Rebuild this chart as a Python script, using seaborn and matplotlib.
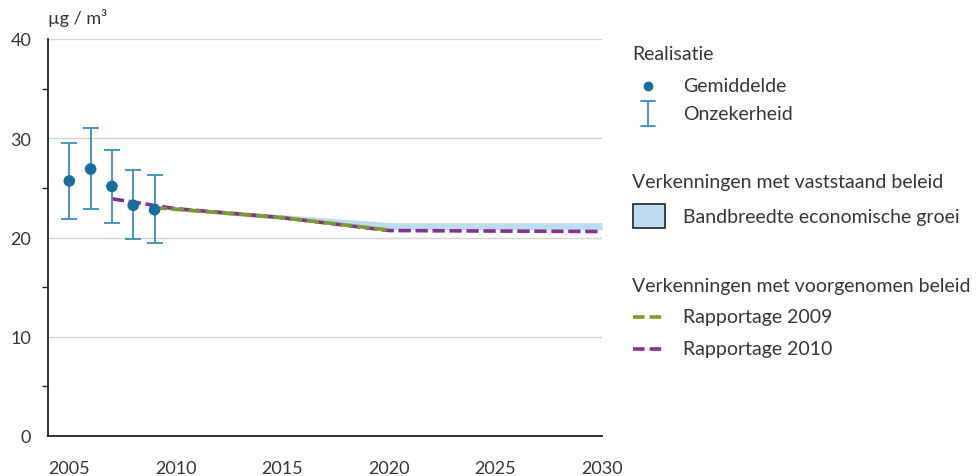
import numpy as np
import pandas as pd
import matplotlib
matplotlib.use("Agg")
import matplotlib.pyplot as plt
from matplotlib.patches import Rectangle
from matplotlib.lines import Line2D
import seaborn as sns

# Measured annual means with uncertainty range
obs_years = [2005, 2006, 2007, 2008, 2009]
obs_mean = [25.7, 26.9, 25.15, 23.25, 22.8]
obs_low = [21.85, 22.9, 21.45, 19.8, 19.4]
obs_high = [29.5, 31.0, 28.85, 26.85, 26.3]

# Outlook with established policy: band for economic growth
band_years = [2009, 2010, 2015, 2020, 2025, 2030]
band_low = [22.9, 22.7, 21.8, 20.8, 20.8, 20.8]
band_high = [23.2, 23.1, 22.3, 21.5, 21.5, 21.5]

# Outlook with proposed policy
r2009_years = [2009, 2010, 2015, 2020]
r2009_vals = [23.0, 22.85, 22.0, 20.75]
r2010_years = [2007, 2010, 2015, 2020, 2030]
r2010_vals = [23.9, 22.9, 22.0, 20.7, 20.6]

y_ticks = [0, 10, 20, 30, 40]
x_ticks = [2005, 2010, 2015, 2020, 2025, 2030]

C_DOT = "#176f9f"
C_ERR = "#3b8fbe"
C_BAND = "#bcdcef"
C_GREEN = "#7d9a2c"
C_PURPLE = "#8a2f8f"
C_TEXT = "#3a3530"

sns.set_style("white")
plt.rcParams["font.family"] = ["Lato", "DejaVu Sans"]

W, H = 976, 477
fig = plt.figure(figsize=(W / 100, H / 100), dpi=100)
ax = fig.add_axes([48 / W, 1 - 437 / H, (602 - 48) / W, (437 - 40) / H])

ax.fill_between(band_years, band_low, band_high, color=C_BAND, lw=0, zorder=2)

df10 = pd.DataFrame({"year": r2010_years, "val": r2010_vals})
df09 = pd.DataFrame({"year": r2009_years, "val": r2009_vals})
sns.lineplot(data=df10, x="year", y="val", ax=ax, color=C_PURPLE, lw=2.6,
             dashes=False, zorder=3)
ax.lines[-1].set_dashes((3.4, 1.3))
sns.lineplot(data=df09, x="year", y="val", ax=ax, color=C_GREEN, lw=2.6,
             dashes=False, zorder=4)
ax.lines[-1].set_dashes((3.4, 1.3))

err = [np.array(obs_mean) - np.array(obs_low), np.array(obs_high) - np.array(obs_mean)]
ax.errorbar(obs_years, obs_mean, yerr=err, fmt="none", ecolor=C_ERR,
            elinewidth=1.3, capsize=6, capthick=1.3, zorder=5)
sns.scatterplot(x=obs_years, y=obs_mean, ax=ax, color=C_DOT, s=70,
                edgecolor="none", zorder=6)

ax.set_xlim(2004, 2030)
ax.set_ylim(0, 40)
ax.set_xticks(x_ticks)
ax.set_yticks(y_ticks)
ax.set_yticks([5, 15, 25, 35], minor=True)
ax.yaxis.grid(True, which="major", color="#d4d4d4", lw=1)
ax.set_axisbelow(True)
for s in ["top", "right"]:
    ax.spines[s].set_visible(False)
for s in ["left", "bottom"]:
    ax.spines[s].set_color("#222222")
    ax.spines[s].set_linewidth(1.3)
ax.tick_params(axis="x", direction="out", length=10, width=1.2, color="#222222",
               labelsize=13, labelcolor=C_TEXT, pad=7)
ax.tick_params(axis="y", which="major", direction="out", length=8, width=1.2,
               color="#222222", labelsize=13, labelcolor=C_TEXT, pad=4)
ax.tick_params(axis="y", which="minor", direction="out", length=4, width=1,
               color="#222222", left=True)
ax.set_xlabel("")
ax.set_ylabel("")
fig.text(48 / W, 1 - 18 / H, "µg / m³", fontsize=13, color=C_TEXT,
         ha="left", va="center")

# Legend panel drawn in pixel coordinates
lg = fig.add_axes([0, 0, 1, 1])
lg.set_xlim(0, W)
lg.set_ylim(H, 0)
lg.axis("off")
lg.patch.set_alpha(0)
fs = 14
tx = 683
lg.text(632, 55, "Realisatie", fontsize=fs, color=C_TEXT, va="center")
lg.plot([648], [87], "o", color=C_DOT, ms=6)
lg.text(tx, 87, "Gemiddelde", fontsize=fs, color=C_TEXT, va="center")
lg.plot([648, 648], [102, 127], color=C_ERR, lw=1.3)
lg.plot([641, 655], [102, 102], color=C_ERR, lw=1.3)
lg.plot([641, 655], [127, 127], color=C_ERR, lw=1.3)
lg.text(tx, 115, "Onzekerheid", fontsize=fs, color=C_TEXT, va="center")
lg.text(632, 183, "Verkenningen met vaststaand beleid", fontsize=fs, color=C_TEXT,
        va="center")
lg.add_patch(Rectangle((633, 205), 32, 24, facecolor=C_BAND, edgecolor="#222222", lw=1.2))
lg.text(tx, 218, "Bandbreedte economische groei", fontsize=fs, color=C_TEXT,
        va="center")
lg.text(632, 287, "Verkenningen met voorgenomen beleid", fontsize=fs, color=C_TEXT,
        va="center")
l1 = Line2D([633, 666], [318, 318], color=C_GREEN, lw=2.6)
l1.set_dashes((3.2, 1.4))
lg.add_line(l1)
lg.text(tx, 318, "Rapportage 2009", fontsize=fs, color=C_TEXT, va="center")
l2 = Line2D([633, 666], [350, 350], color=C_PURPLE, lw=2.6)
l2.set_dashes((3.2, 1.4))
lg.add_line(l2)
lg.text(tx, 350, "Rapportage 2010", fontsize=fs, color=C_TEXT, va="center")

fig.savefig("out.png", dpi=100)
